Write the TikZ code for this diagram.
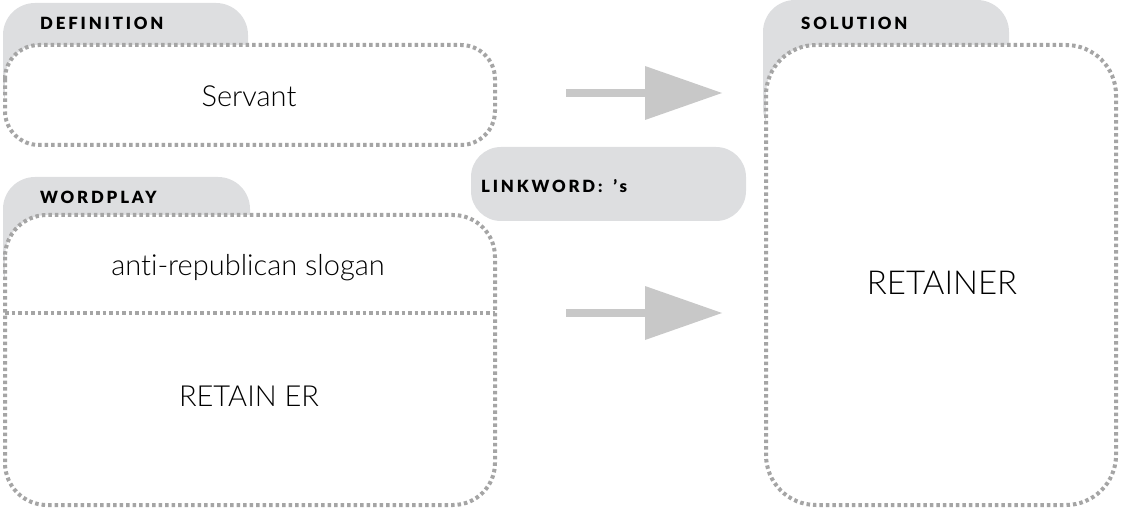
\documentclass[tikz,border=0pt]{standalone}
\usepackage{fontspec}
\usetikzlibrary{calc}
\newfontfamily\bodyfont{Lato Light}[Ligatures=NoCommon]
\newfontfamily\labfont{Lato Black}[LetterSpace=17]
\definecolor{tabgray}{RGB}{221,222,224}
\definecolor{dotgray}{RGB}{165,165,165}
\definecolor{arrgray}{RGB}{200,200,200}
\tikzset{
  tabshape/.style={fill=tabgray, rounded corners=32},
  dotbox/.style={draw=dotgray, fill=white, line width=4pt, dash pattern=on 3.5pt off 3pt},
  divline/.style={draw=dotgray, line width=4pt, dash pattern=on 3.5pt off 3pt},
  labtext/.style={font=\labfont\fontsize{16.8}{18}\selectfont, anchor=base west, inner sep=0},
  bodytext/.style={font=\bodyfont\fontsize{29}{32}\selectfont, inner sep=0},
  arrfill/.style={fill=arrgray}
}
\begin{document}
\begin{tikzpicture}[x=1pt,y=-1pt]
\useasboundingbox (0,0) rectangle (1122,513);
% tabs
\fill[tabshape] (3,3) rectangle (248,120);
\fill[tabshape] (3,177) rectangle (250,300);
\fill[tabshape] (763,0) rectangle (1009,140);
% boxes
\draw[dotbox, rounded corners=34] (5,45) rectangle (495,145);
\draw[dotbox, rounded corners=42] (5,215) rectangle (495,505);
\draw[dotbox, rounded corners=50] (766,45) rectangle (1116,505);
\coordinate (dl) at (5,313);
\coordinate (dr) at (495,313);
\draw[divline] (dl) -- (dr);
% labels
\node[labtext] (ldef) at (40,30) {DEFINITION};
\node[labtext] (lwp) at (40,204) {WORDPLAY};
\node[labtext] (lsol) at (801,30) {SOLUTION};
% body texts
\node[bodytext] (serv) at (249,96) {Servant};
\node[bodytext] (anti) at (248,268) {anti-republican slogan};
\node[bodytext] (ret) at (249,396) {RETAIN ER};
\node[font=\bodyfont\fontsize{33}{36}\selectfont, inner sep=0] (sol) at (942,283) {RETAINER};
% linkword pill
\fill[tabgray, rounded corners=30] (471,147) rectangle (746,221);
\node[labtext] (lnk) at (481,193) {LINKWORD:\hspace{4pt} ’s};
% arrows
\foreach \yy/\nm in {93/a, 313/b} {
  \coordinate (\nm s) at (566,\yy);
  \coordinate (\nm h) at (645,\yy);
  \coordinate (\nm t) at (722,\yy);
  \fill[arrfill] ($(\nm s)+(0,-4)$) rectangle ($(\nm h)+(1,4)$);
  \fill[arrfill] ($(\nm h)+(0,-27)$) -- (\nm t) -- ($(\nm h)+(0,27)$) -- cycle;
}
\end{tikzpicture}
\end{document}
